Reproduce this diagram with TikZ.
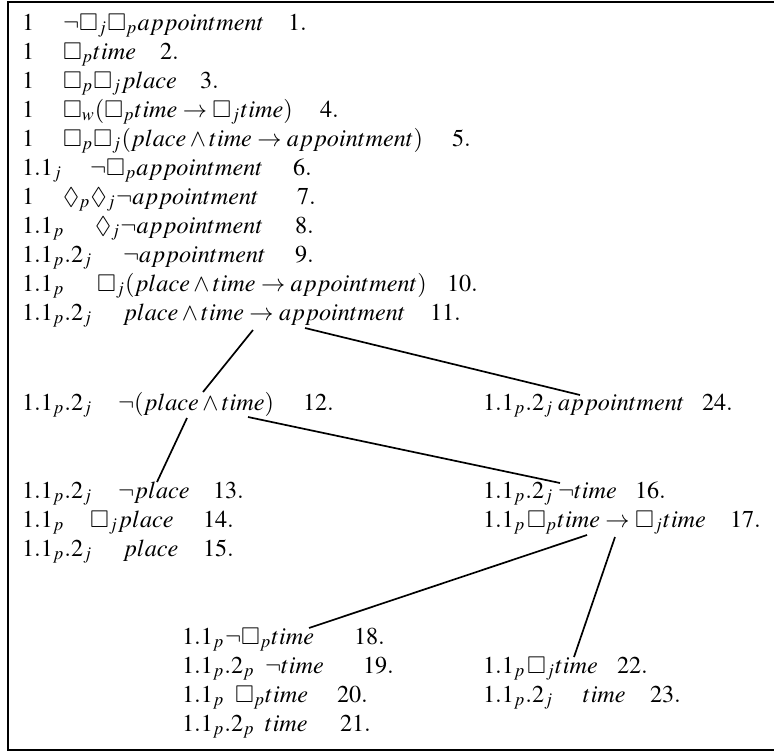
\documentclass[tikz,border=0pt]{standalone}
\usepackage{mathptmx}
\usepackage{amssymb}
\usepackage{fontspec}
\setmainfont{Liberation Serif}
\begin{document}
\begin{tikzpicture}[x=0.413pt,y=-0.413pt,
  txt/.style={anchor=base west,inner sep=0pt,outer sep=0pt,font=\fontsize{10}{12}\selectfont},
  conn/.style={line width=0.7pt},
  frame/.style={line width=0.8pt}]
\useasboundingbox (0,0) rectangle (774,751);
\draw[frame] (775,1.8) -- (8.3,1.8) -- (8.3,750) -- (775,750);
% top block
\node[txt] (l1) at (22,30) {$1$};
\node[txt] (f1) at (63,30) {$\neg\Box_j\Box_p appointment$};
\node[txt] (n1) at (288,30) {$1.$};
\node[txt] (l2) at (22,59) {$1$};
\node[txt] (f2) at (63,59) {$\Box_p time$};
\node[txt] (n2) at (160,59) {$2.$};
\node[txt] (l3) at (22,88) {$1$};
\node[txt] (f3) at (63,88) {$\Box_p\Box_j place$};
\node[txt] (n3) at (200,88) {$3.$};
\node[txt] (l4) at (22,117) {$1$};
\node[txt] (f4) at (63,117) {$\Box_w(\Box_p time\rightarrow\Box_j time)$};
\node[txt] (n4) at (320,117) {$4.$};
\node[txt] (l5) at (22,146) {$1$};
\node[txt] (f5) at (63,146) {$\Box_p\Box_j(place\wedge time\rightarrow appointment)$};
\node[txt] (n5) at (452,146) {$5.$};
\node[txt] (l6) at (22,175) {$1.1_j$};
\node[txt] (f6) at (90,175) {$\neg\Box_p appointment$};
\node[txt] (n6) at (293,175) {$6.$};
\node[txt] (l7) at (22,204) {$1$};
\node[txt] (f7) at (63,204) {$\Diamond_p\Diamond_j\neg appointment$};
\node[txt] (n7) at (297,204) {$7.$};
\node[txt] (l8) at (22,233) {$1.1_p$};
\node[txt] (f8) at (95,233) {$\Diamond_j\neg appointment$};
\node[txt] (n8) at (295,233) {$8.$};
\node[txt] (l9) at (22,262) {$1.1_p.2_j$};
\node[txt] (f9) at (123,262) {$\neg appointment$};
\node[txt] (n9) at (295,262) {$9.$};
\node[txt] (l10) at (22,291) {$1.1_p$};
\node[txt] (f10) at (97,291) {$\Box_j(place\wedge time\rightarrow appointment)$};
\node[txt] (n10) at (447,291) {$10.$};
\node[txt] (l11) at (22,320) {$1.1_p.2_j$};
\node[txt] (f11) at (123,320) {$place\wedge time\rightarrow appointment$};
\node[txt] (n11) at (430,320) {$11.$};
% left middle block
\node[txt] (l12) at (22,410) {$1.1_p.2_j$};
\node[txt] (f12) at (118,410) {$\neg(place\wedge time)$};
\node[txt] (n12) at (303,410) {$12.$};
\node[txt] (l13) at (22,498) {$1.1_p.2_j$};
\node[txt] (f13) at (118,498) {$\neg place$};
\node[txt] (n13) at (213,498) {$13.$};
\node[txt] (l14) at (22,527) {$1.1_p$};
\node[txt] (f14) at (90,527) {$\Box_j place$};
\node[txt] (n14) at (203,527) {$14.$};
\node[txt] (l15) at (22,556) {$1.1_p.2_j$};
\node[txt] (f15) at (123,556) {$place$};
\node[txt] (n15) at (203,556) {$15.$};
% right middle block
\node[txt] (l24) at (483,410) {$1.1_p.2_j$};
\node[txt] (f24) at (558,410) {$appointment$};
\node[txt] (n24) at (702,410) {$24.$};
\node[txt] (l16) at (483,498) {$1.1_p.2_j$};
\node[txt] (f16) at (558,498) {$\neg time$};
\node[txt] (n16) at (635,498) {$16.$};
\node[txt] (l17) at (483,527) {$1.1_p$};
\node[txt] (f17) at (527,527) {$\Box_p time\rightarrow\Box_j time$};
\node[txt] (n17) at (730,527) {$17.$};
% bottom left block
\node[txt] (l18) at (182,644) {$1.1_p$};
\node[txt] (f18) at (225,644) {$\neg\Box_p time$};
\node[txt] (n18) at (354,644) {$18.$};
\node[txt] (l19) at (182,673) {$1.1_p.2_p$};
\node[txt] (f19) at (265,673) {$\neg time$};
\node[txt] (n19) at (363,673) {$19.$};
\node[txt] (l20) at (182,702) {$1.1_p$};
\node[txt] (f20) at (235,702) {$\Box_p time$};
\node[txt] (n20) at (337,702) {$20.$};
\node[txt] (l21) at (182,731) {$1.1_p.2_p$};
\node[txt] (f21) at (265,731) {$time$};
\node[txt] (n21) at (340,731) {$21.$};
% bottom right block
\node[txt] (l22) at (483,673) {$1.1_p$};
\node[txt] (f22) at (527,673) {$\Box_j time$};
\node[txt] (n22) at (617,673) {$22.$};
\node[txt] (l23) at (483,702) {$1.1_p.2_j$};
\node[txt] (f23) at (583,702) {$time$};
\node[txt] (n23) at (650,702) {$23.$};
% connector ends
\coordinate (c11a) at (253,330);
\coordinate (c11b) at (305,328);
\coordinate (c12t) at (203,392);
\coordinate (c12a) at (187,418);
\coordinate (c12b) at (248,417);
\coordinate (c13t) at (157,482);
\coordinate (c24t) at (580,395);
\coordinate (c16t) at (560,483);
\coordinate (c17a) at (587,535);
\coordinate (c17b) at (615,537);
\coordinate (c18t) at (309,628);
\coordinate (c22t) at (574,657);
\draw[conn] (c11a) -- (c12t);
\draw[conn] (c11b) -- (c24t);
\draw[conn] (c12a) -- (c13t);
\draw[conn] (c12b) -- (c16t);
\draw[conn] (c17a) -- (c18t);
\draw[conn] (c17b) -- (c22t);
\end{tikzpicture}
\end{document}
